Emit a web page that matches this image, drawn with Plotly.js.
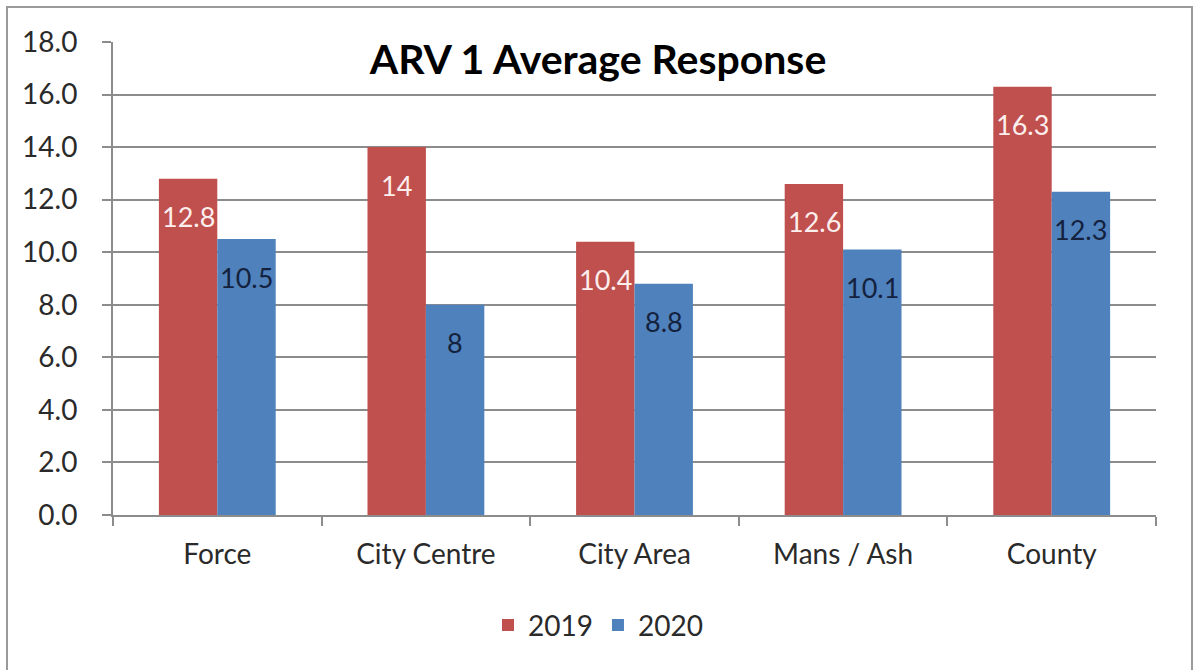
<!DOCTYPE html>
<html>
<head>
<meta charset="utf-8">
<script src="https://cdn.plot.ly/plotly-3.0.1.min.js"></script>
<style>
html,body{margin:0;padding:0;background:#fff;}
#chart{width:1197px;height:670px;}
</style>
</head>
<body>
<div id="chart"></div>
<script>
const categories = ["Force", "City Centre", "City Area", "Mans / Ash", "County"];
const series2019 = [12.8, 14, 10.4, 12.6, 16.3];
const series2020 = [10.5, 8, 8.8, 10.1, 12.3];
const seriesNames = ["2019", "2020"];
const yTickVals = [0, 2, 4, 6, 8, 10, 12, 14, 16, 18];
const yTickText = ["0.0", "2.0", "4.0", "6.0", "8.0", "10.0", "12.0", "14.0", "16.0", "18.0"];

const RED = "#C0504D", BLUE = "#4F81BD";
const FONT = "Lato, 'Open Sans', sans-serif";

const traces = [
  {type: "bar", name: seriesNames[0], x: categories, y: series2019, marker: {color: RED}, hoverinfo: "none"},
  {type: "bar", name: seriesNames[1], x: categories, y: series2020, marker: {color: BLUE}, hoverinfo: "none"}
];

const annotations = [];
categories.forEach((c, i) => {
  annotations.push({x: c, y: series2019[i], xref: "x", yref: "y", text: String(series2019[i]),
    showarrow: false, xshift: -29, yshift: -38, font: {family: FONT, size: 27, color: "#fdeeee"}});
  annotations.push({x: c, y: series2020[i], xref: "x", yref: "y", text: String(series2020[i]),
    showarrow: false, xshift: 29, yshift: -38, font: {family: FONT, size: 27, color: "#14223d"}});
});

const layout = {
  width: 1197, height: 670,
  margin: {l: 113, r: 41, t: 42, b: 155},
  paper_bgcolor: "#fff", plot_bgcolor: "#fff",
  font: {family: FONT, size: 28, color: "#2a2a2a"},
  title: {text: "<b>ARV 1 Average Response</b>", x: 598/1197, xanchor: "center", y: 1 - 60/670, yanchor: "middle",
    font: {family: FONT, size: 41, color: "#000"}},
  barmode: "group", bargap: 0.44, bargroupgap: 0,
  showlegend: true,
  legend: {orientation: "h", x: 0.465, xanchor: "center", y: -0.233, yanchor: "middle",
    font: {family: FONT, size: 28, color: "#2a2a2a"}, itemwidth: 30, traceorder: "normal"},
  xaxis: {type: "category", showgrid: false, showline: true, linecolor: "#8c8c8c", linewidth: 2,
    ticks: "outside", tickson: "boundaries", ticklen: 9, tickcolor: "#8c8c8c", tickwidth: 2,
    ticklabelstandoff: 13, tickfont: {family: FONT, size: 28, color: "#2a2a2a"}, zeroline: false},
  yaxis: {range: [0, 18], tickvals: yTickVals, ticktext: yTickText, showgrid: true, gridcolor: "#8c8c8c", gridwidth: 2,
    showline: true, linecolor: "#8c8c8c", linewidth: 2, ticks: "outside", ticklen: 9, tickcolor: "#8c8c8c", tickwidth: 2,
    ticklabelstandoff: 19, tickfont: {family: FONT, size: 28, color: "#2a2a2a"}, zeroline: false},
  annotations: annotations,
  shapes: [{type: "rect", xref: "paper", yref: "paper", x0: (7-113)/1043, x1: (1192-113)/1043,
    y0: (515-690)/473, y1: (515-7)/473, line: {color: "#9a9a9a", width: 2}, fillcolor: "rgba(0,0,0,0)", layer: "below"}]
};

Plotly.newPlot("chart", traces, layout, {displayModeBar: false, staticPlot: true});
</script>
</body>
</html>
